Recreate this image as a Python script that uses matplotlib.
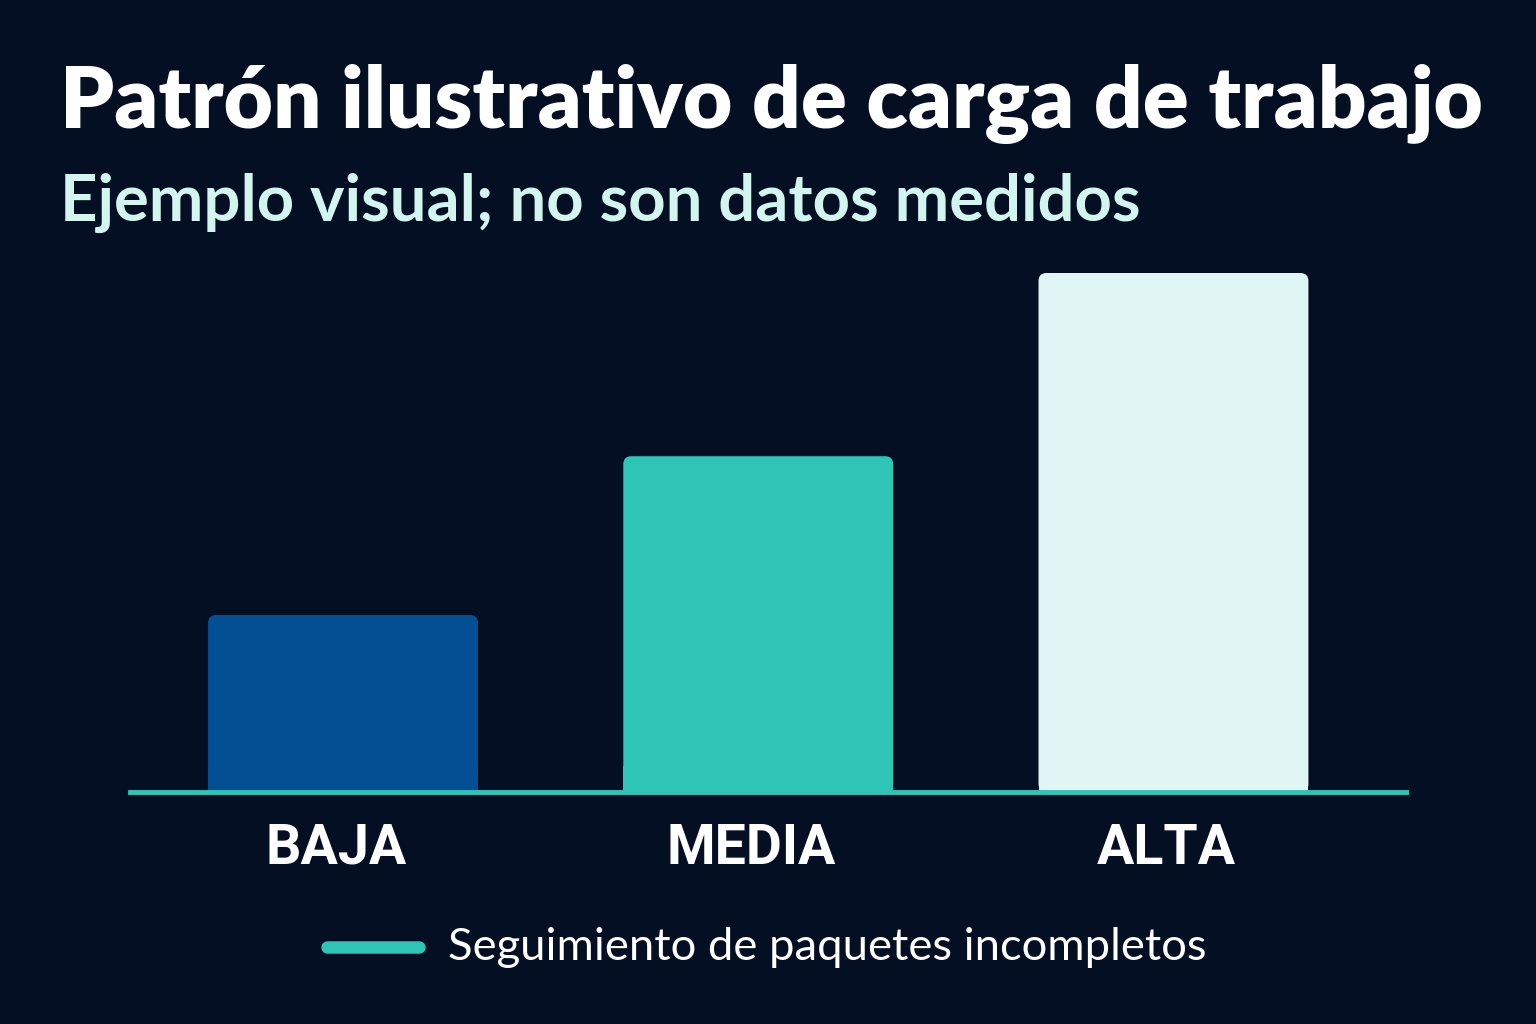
import matplotlib
matplotlib.use("Agg")
from matplotlib import pyplot as plt
from matplotlib.patches import FancyBboxPatch
from matplotlib.lines import Line2D
from matplotlib.transforms import ScaledTranslation

categories = ["BAJA", "MEDIA", "ALTA"]
values = [34.1, 64.7, 100.0]
bar_colors = ["#034f93", "#2ec4b6", "#dff6f4"]

title = "Patrón ilustrativo de carga de trabajo"
subtitle = "Ejemplo visual; no son datos medidos"
legend_label = "Seguimiento de paquetes incompletos"

bg = "#040f24"
teal = "#2ec4b6"

plt.rcParams["font.family"] = ["Lato", "DejaVu Sans"]

fig = plt.figure(figsize=(15.36, 10.24), dpi=100, facecolor=bg)
ax = fig.add_axes([130 / 1536, 1 - 792 / 1024, 1276 / 1536, 519 / 1024])
ax.set_facecolor(bg)

x = list(range(len(categories)))
bars = ax.bar(x, values, width=0.65, color=bar_colors)
ax.set_xlim(-0.513, 2.56)
ax.set_ylim(0, 100)

# swap square bars for ones with slightly rounded corners
px_x = 1276 / (2.56 + 0.513)
px_y = 519 / 100
for b in bars:
    bx, by = b.get_x(), b.get_y()
    w, h = b.get_width(), b.get_height()
    r = 8 / px_x
    rounded = FancyBboxPatch((bx + r, by + r * px_x / px_y), w - 2 * r, h - 2 * r * px_x / px_y,
                             boxstyle=f"round,pad={r},rounding_size={r}",
                             mutation_aspect=px_x / px_y,
                             facecolor=b.get_facecolor(), edgecolor="none", zorder=2)
    ax.add_patch(rounded)
    b.remove()
# fill lower corners so only the top looks rounded
for b_x, v, c in zip(x, values, bar_colors):
    ax.bar(b_x, min(v, 5), width=0.65, color=c, zorder=2)

ax.axhline(0, color=teal, lw=3.5, zorder=3, clip_on=False)

for s in ax.spines.values():
    s.set_visible(False)
ax.set_yticks([])
ax.set_xticks(x)
ax.set_xticklabels(categories, fontsize=40, fontweight="bold", color="white",
                   family=["Roboto", "DejaVu Sans"])
ax.tick_params(axis="x", length=0, pad=22)
shift = ScaledTranslation(-7 / 100, 0, fig.dpi_scale_trans)
for lbl in ax.get_xticklabels():
    lbl.set_transform(lbl.get_transform() + shift)

fig.text(60 / 1536, 1 - 104 / 1024, title, fontsize=61.3, fontweight="heavy",
         color="white", va="center", ha="left")
fig.text(60 / 1536, 1 - 203 / 1024, subtitle, fontsize=47, fontweight="bold",
         color="#d3f5ef", va="center", ha="left")

fig.add_artist(Line2D([327 / 1536, 419 / 1536], [1 - 947 / 1024] * 2, color=teal,
                      lw=9, solid_capstyle="round"))
fig.text(448 / 1536, 1 - 947 / 1024, legend_label, fontsize=32.7, color="white",
         va="center", ha="left")

fig.savefig("out.png", dpi=100, facecolor=bg)
